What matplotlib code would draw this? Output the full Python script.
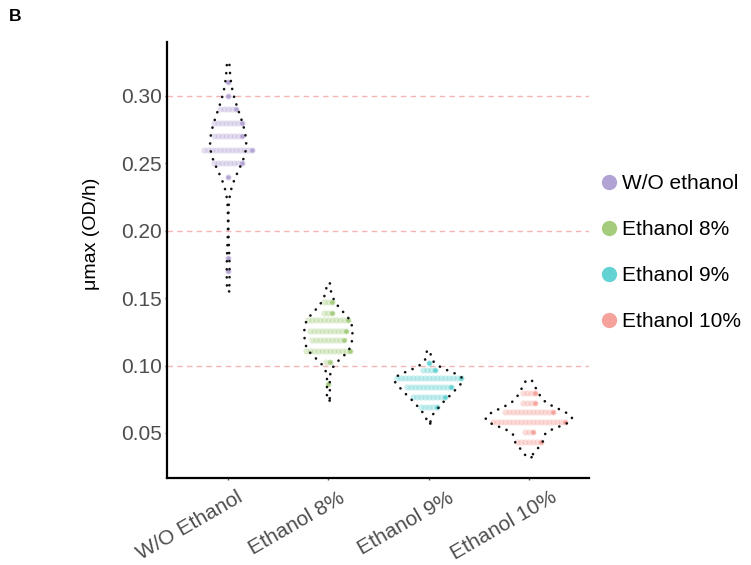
import numpy as np
import matplotlib
matplotlib.use("Agg")
import matplotlib.pyplot as plt
import matplotlib.transforms as mtransforms
from matplotlib import cbook, mlab
from matplotlib.lines import Line2D

plt.rcParams["font.family"] = ["Liberation Sans", "DejaVu Sans"]

groups = ["W/O Ethanol", "Ethanol 8%", "Ethanol 9%", "Ethanol 10%"]
legend_labels = ["W/O ethanol", "Ethanol 8%", "Ethanol 9%", "Ethanol 10%"]
colors = ["#b3a2d4", "#a5cc7d", "#62d2d2", "#f4a29b"]

# dot stacks: bin centre (OD/h) and number of wells in each bin
wo_levels = [0.31, 0.30, 0.29, 0.28, 0.27, 0.26, 0.25, 0.24, 0.18, 0.17]
wo_counts = [1, 1, 5, 8, 8, 13, 8, 1, 1, 1]
e8_levels = [0.147, 0.139, 0.134, 0.126, 0.119, 0.111, 0.103, 0.086]
e8_counts = [3, 3, 11, 10, 9, 12, 2, 1]
e9_levels = [0.102, 0.097, 0.091, 0.084, 0.077, 0.069]
e9_counts = [1, 4, 17, 12, 9, 5]
e10_levels = [0.080, 0.0725, 0.0655, 0.0585, 0.0505, 0.043]
e10_counts = [4, 4, 13, 19, 3, 7]

# lowest / highest single measurement per condition
obs_min = [0.155, 0.074, 0.057, 0.032]
obs_max = [0.325, 0.161, 0.111, 0.089]

stacks = [(wo_levels, wo_counts), (e8_levels, e8_counts),
          (e9_levels, e9_counts), (e10_levels, e10_counts)]
positions = np.arange(1, len(groups) + 1)

samples = []
for (levels, counts), lo, hi in zip(stacks, obs_min, obs_max):
    samples.append(np.concatenate([np.repeat(levels, counts), [lo, hi]]))


def kde(data, coords):
    return mlab.GaussianKDE(data, 0.45).evaluate(coords)


stats = cbook.violin_stats(samples, kde, points=200)
violin_widths = [0.36, 0.48, 0.68, 0.86]

fig = plt.figure(figsize=(7.51, 5.65), dpi=100)
ax = fig.add_axes([167 / 751, 1 - 478 / 565, 422 / 751, 436 / 565])

for yg in [0.10, 0.20, 0.30]:
    ax.axhline(yg, color="#f5b5b5", lw=1.0, dashes=(4, 3), zorder=0)

dot_step = 0.04
for pos, (levels, counts), col in zip(positions, stacks, colors):
    for lev, n in zip(levels, counts):
        offs = (np.arange(n) - (n - 1) / 2) * dot_step
        ax.scatter(pos + offs, np.full(n, lev), s=20, color=col, alpha=0.35,
                   lw=0, zorder=2)
        ax.scatter(pos + offs[-1], lev, s=10, color=col, alpha=0.95, lw=0,
                   zorder=2.5)

parts = ax.violin(stats, positions=positions, widths=violin_widths,
                  showmeans=False, showextrema=False, showmedians=False)
for body in parts["bodies"]:
    body.set_facecolor("none")
    body.set_edgecolor("#111111")
    body.set_alpha(1)
    body.set_linewidth(1.9)
    body.set_linestyle((0, (0.05, 3.0)))
    body.set_capstyle("round")
    body.set_zorder(3)

ax.set_xlim(0.39, 4.6)
ax.set_ylim(0.0166, 0.340)
ax.set_yticks([0.05, 0.10, 0.15, 0.20, 0.25, 0.30])
ax.set_yticklabels(["0.05", "0.10", "0.15", "0.20", "0.25", "0.30"])
ax.set_xticks(positions)
ax.set_xticklabels([])

# rotated group names, each nudged right of its tick
base = ax.get_xaxis_transform()
for pos, name, dx in zip(positions, groups, [8, 10, 19, 22]):
    off = mtransforms.ScaledTranslation(dx / 100, -10 / 100,
                                        fig.dpi_scale_trans)
    ax.text(pos, 0, name, transform=base + off, rotation=30, ha="right",
            va="top", rotation_mode="anchor", fontsize=15, color="#4d4d4d")

ax.tick_params(axis="both", length=1.5, width=1, color="#555555",
               labelsize=15, labelcolor="#4d4d4d")
ax.tick_params(axis="y", pad=2)

for side in ["top", "right"]:
    ax.spines[side].set_visible(False)
for side in ["left", "bottom"]:
    ax.spines[side].set_linewidth(1.6)
    ax.spines[side].set_color("black")

ax.set_ylabel("μmax (OD/h)", fontsize=14, color="black")
ax.yaxis.set_label_coords(-0.159, 0.56)

handles = [Line2D([], [], marker="o", ls="none", markersize=11,
                  markerfacecolor=c, markeredgecolor="none") for c in colors]
fig.legend(handles, legend_labels, loc="upper left",
           bbox_to_anchor=(601 / 751, 1 - 174 / 565), frameon=False,
           fontsize=15, handlelength=0.8, handletextpad=0.2,
           labelspacing=1.3, borderpad=0, borderaxespad=0)

fig.text(9 / 751, 1 - 21 / 565, "B", fontsize=12.5, fontweight="bold",
         va="baseline")

fig.savefig("out.png", dpi=100)
